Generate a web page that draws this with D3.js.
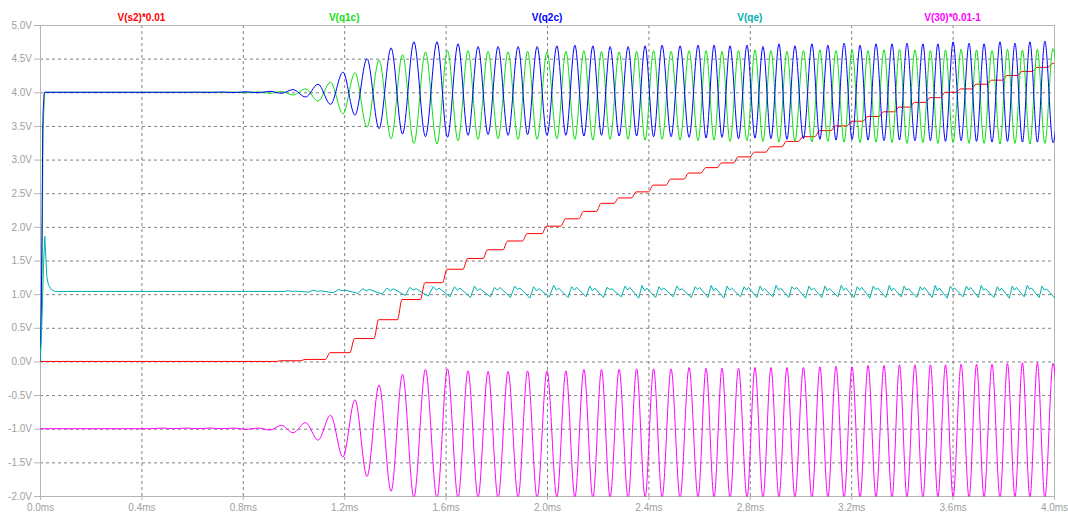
<!DOCTYPE html>
<html>
<head>
<meta charset="utf-8">
<script src="https://cdn.jsdelivr.net/npm/d3@7"></script>
<style>
  html, body { margin: 0; padding: 0; background: #ffffff; }
  svg { display: block; }
</style>
</head>
<body>
<svg id="chart" width="1068" height="512"></svg>
<script>
// ---- axis ticks ----
const xTicks = [0, 0.4, 0.8, 1.2, 1.6, 2.0, 2.4, 2.8, 3.2, 3.6, 4.0];
const xTickLabels = ["0.0ms", "0.4ms", "0.8ms", "1.2ms", "1.6ms", "2.0ms", "2.4ms", "2.8ms", "3.2ms", "3.6ms", "4.0ms"];
const yTicks = [5.0, 4.5, 4.0, 3.5, 3.0, 2.5, 2.0, 1.5, 1.0, 0.5, 0.0, -0.5, -1.0, -1.5, -2.0];
const yTickLabels = ["5.0V", "4.5V", "4.0V", "3.5V", "3.0V", "2.5V", "2.0V", "1.5V", "1.0V", "0.5V", "0.0V", "-0.5V", "-1.0V", "-1.5V", "-2.0V"];

// ---- trace names ----
const traceNames = ["V(s2)*0.01", "V(q1c)", "V(q2c)", "V(qe)", "V(30)*0.01-1"];

// ---- oscillation cycles: instants of the V(q2c) crests (ms) ----
const crestMs = [
  0.434, 0.529, 0.623, 0.718, 0.813, 0.907, 0.998, 1.097, 1.195, 1.290,
  1.385, 1.475, 1.566, 1.649, 1.728, 1.807, 1.886, 1.961, 2.039, 2.110,
  2.181, 2.249, 2.320, 2.387, 2.454, 2.525, 2.596, 2.659, 2.722, 2.789,
  2.852, 2.915, 2.978, 3.045, 3.108, 3.172, 3.235, 3.298, 3.361, 3.420,
  3.483, 3.542, 3.602, 3.665, 3.724, 3.787, 3.846, 3.905, 3.964, 4.028
];

// V(q2c): power-up edge, then crest (per crest) and trough (per half cycle) voltages
const q2cStartMs = [0, 0.004, 0.008, 0.011, 0.014, 0.018];
const q2cStartV  = [0, 0.6, 2.0, 3.5, 3.84, 4.0];
const q2cHigh = [
  4.000, 4.000, 4.003, 4.005, 4.008, 4.015, 4.04, 4.12, 4.30, 4.50,
  4.66, 4.75, 4.75, 4.72, 4.68, 4.68, 4.68, 4.68, 4.69, 4.70,
  4.69, 4.68, 4.68, 4.69, 4.70, 4.69, 4.70, 4.70, 4.69, 4.70,
  4.68, 4.72, 4.69, 4.72, 4.70, 4.73, 4.70, 4.72, 4.72, 4.73,
  4.72, 4.72, 4.75, 4.73, 4.72, 4.75, 4.73, 4.75, 4.76, 4.74
];
const q2cLow = [
  4.000, 4.000, 3.998, 3.996, 3.993, 3.985, 3.93, 3.82, 3.66, 3.46,
  3.38, 3.34, 3.33, 3.36, 3.37, 3.36, 3.37, 3.36, 3.36, 3.35,
  3.36, 3.35, 3.35, 3.34, 3.34, 3.33, 3.32, 3.33, 3.31, 3.32,
  3.31, 3.30, 3.31, 3.30, 3.29, 3.30, 3.29, 3.28, 3.29, 3.28,
  3.28, 3.27, 3.28, 3.27, 3.26, 3.27, 3.26, 3.26, 3.25
];

// V(q1c): antiphase collector — trough at each q2c crest, crest at each q2c trough
const q1cStartMs = [0, 0.005, 0.009, 0.012, 0.016, 0.019];
const q1cStartV  = [0, 0.5, 1.8, 3.3, 3.8, 4.0];
const q1cLow = [
  4.000, 4.000, 3.997, 3.995, 3.992, 3.985, 3.96, 3.87, 3.68, 3.48,
  3.31, 3.24, 3.23, 3.28, 3.30, 3.31, 3.30, 3.30, 3.31, 3.30,
  3.29, 3.30, 3.30, 3.29, 3.30, 3.29, 3.28, 3.29, 3.27, 3.28,
  3.27, 3.26, 3.27, 3.26, 3.27, 3.26, 3.25, 3.26, 3.25, 3.24,
  3.25, 3.24, 3.25, 3.24, 3.24, 3.23, 3.24, 3.23, 3.24, 3.23
];
const q1cHigh = [
  4.000, 4.000, 4.002, 4.004, 4.007, 4.012, 4.05, 4.15, 4.29, 4.48,
  4.56, 4.60, 4.62, 4.62, 4.61, 4.60, 4.61, 4.60, 4.61, 4.62,
  4.61, 4.60, 4.61, 4.62, 4.61, 4.62, 4.62, 4.61, 4.62, 4.63,
  4.62, 4.61, 4.62, 4.63, 4.62, 4.63, 4.62, 4.63, 4.64, 4.63,
  4.62, 4.63, 4.64, 4.63, 4.62, 4.64, 4.63, 4.64, 4.65
];

// V(30)*0.01-1: tank voltage — trough at each q2c crest, crest at each q2c trough
const v30Low = [
  -1.00, -1.00, -1.00, -1.00, -1.01, -1.02, -1.06, -1.17, -1.42, -1.71,
  -1.93, -2.02, -2.03, -2.03, -2.02, -2.03, -2.02, -2.03, -2.02, -2.02,
  -2.03, -2.02, -2.03, -2.02, -2.02, -2.03, -2.02, -2.02, -2.03, -2.02,
  -2.03, -2.02, -2.02, -2.03, -2.02, -2.03, -2.02, -2.02, -2.03, -2.02,
  -2.03, -2.02, -2.02, -2.03, -2.02, -2.03, -2.02, -2.02, -2.03, -2.02
];
const v30High = [
  -0.99, -0.99, -0.99, -0.99, -0.99, -0.95, -0.91, -0.80, -0.57, -0.35,
  -0.19, -0.12, -0.11, -0.14, -0.15, -0.15, -0.14, -0.14, -0.14, -0.12,
  -0.12, -0.12, -0.11, -0.11, -0.11, -0.09, -0.10, -0.10, -0.10, -0.09,
  -0.09, -0.09, -0.09, -0.08, -0.07, -0.08, -0.06, -0.06, -0.05, -0.05,
  -0.05, -0.05, -0.04, -0.04, -0.04, -0.03, -0.02, -0.02, -0.03
];

// V(s2)*0.01: level reached after the charge step of each half cycle
const s2Level = [
  0, 0, 0, 0, 0, 0.01, 0.03, 0.13, 0.34, 0.62,
  0.92, 1.17, 1.37, 1.53, 1.66, 1.79, 1.90, 2.01, 2.12, 2.23,
  2.35, 2.43, 2.52, 2.62, 2.71, 2.80, 2.88, 2.95, 3.04, 3.11,
  3.19, 3.27, 3.34, 3.43, 3.50, 3.57, 3.64, 3.71, 3.78, 3.85,
  3.92, 4.00, 4.05, 4.12, 4.18, 4.25, 4.31, 4.37, 4.43
];

// V(qe): start-up spike, then per-cycle ripple (spike, notch, bump, dip)
const qeStartMs = [0, 0.005, 0.009, 0.014, 0.019, 0.023, 0.027, 0.034, 0.045, 0.058];
const qeStartV  = [0, 0.35, 0.76, 1.45, 1.86, 1.55, 1.25, 1.13, 1.07, 1.04];
const qeSpike = [
  1.04, 1.04, 1.04, 1.04, 1.04, 1.04, 1.05, 1.06, 1.07, 1.08,
  1.09, 1.10, 1.11, 1.11, 1.12, 1.10, 1.12, 1.11, 1.13, 1.11,
  1.12, 1.10, 1.12, 1.13, 1.11, 1.12, 1.11, 1.13, 1.12, 1.11,
  1.12, 1.13, 1.11, 1.12, 1.12, 1.13, 1.11, 1.12, 1.13, 1.12,
  1.11, 1.13, 1.12, 1.12, 1.13, 1.11, 1.12, 1.13, 1.12, 1.13
];
const qeNotch = [
  1.04, 1.04, 1.04, 1.04, 1.04, 1.04, 1.04, 1.04, 1.05, 1.05,
  1.05, 1.06, 1.06, 1.06, 1.05, 1.06, 1.07, 1.05, 1.06, 1.06,
  1.05, 1.07, 1.06, 1.05, 1.06, 1.06, 1.07, 1.05, 1.06, 1.06,
  1.05, 1.06, 1.07, 1.06, 1.05, 1.06, 1.06, 1.07, 1.05, 1.06,
  1.06, 1.05, 1.07, 1.06, 1.06, 1.05, 1.06, 1.07, 1.06, 1.05
];
const qeBump = [
  1.04, 1.04, 1.04, 1.04, 1.04, 1.04, 1.045, 1.05, 1.06, 1.07,
  1.08, 1.08, 1.09, 1.09, 1.08, 1.10, 1.09, 1.08, 1.09, 1.10,
  1.09, 1.08, 1.10, 1.09, 1.09, 1.08, 1.10, 1.09, 1.09, 1.10,
  1.08, 1.09, 1.10, 1.09, 1.08, 1.09, 1.10, 1.09, 1.09, 1.08,
  1.10, 1.09, 1.09, 1.10, 1.08, 1.09, 1.10, 1.09, 1.08, 1.09
];
const qeDip = [
  1.04, 1.04, 1.04, 1.04, 1.04, 1.04, 1.03, 1.02, 1.01, 1.00,
  0.98, 0.97, 0.96, 0.95, 0.96, 0.95, 0.94, 0.96, 0.95, 0.96,
  0.95, 0.96, 0.94, 0.95, 0.96, 0.95, 0.95, 0.94, 0.96, 0.95,
  0.96, 0.95, 0.94, 0.95, 0.96, 0.95, 0.94, 0.95, 0.96, 0.95,
  0.95, 0.94, 0.96, 0.95, 0.95, 0.94, 0.96, 0.95, 0.94, 0.95
];

// ---- layout / style ----
const colors = {
  s2: "#ff0000", q1c: "#10e010", q2c: "#0000ff", qe: "#00b0b0", v30: "#ff00ff"
};
const legendColors = [colors.s2, colors.q1c, colors.q2c, colors.qe, colors.v30];
const margin = { left: 40, top: 25, right: 14, bottom: 16 };
const width = 1068, height = 512;
const plotW = width - margin.left - margin.right;
const plotH = height - margin.top - margin.bottom;
const FONT = "'Liberation Sans', Arial, Helvetica, sans-serif";

const x = d3.scaleLinear().domain([0, 4]).range([margin.left, margin.left + plotW]);
const y = d3.scaleLinear().domain([-2, 5]).range([margin.top + plotH, margin.top]);

const svg = d3.select("#chart");

// ---- grid (dashed) ----
const hGrid = svg.append("g")
  .attr("transform", `translate(${margin.left},0)`)
  .call(d3.axisLeft(y).tickValues(yTicks.filter(v => v > -2 && v < 5)).tickSize(-plotW).tickFormat(""));
hGrid.select(".domain").remove();
hGrid.selectAll("line").attr("stroke", "#808080").attr("stroke-dasharray", "3,3");

const vGrid = svg.append("g")
  .attr("transform", `translate(0,${margin.top + plotH})`)
  .call(d3.axisBottom(x).tickValues(xTicks.filter(v => v > 0 && v < 4)).tickSize(-plotH).tickFormat(""));
vGrid.select(".domain").remove();
vGrid.selectAll("line").attr("stroke", "#808080").attr("stroke-dasharray", "3,3");

// ---- frame ----
svg.append("rect")
  .attr("x", margin.left + 0.5).attr("y", margin.top + 0.5)
  .attr("width", plotW).attr("height", plotH)
  .attr("fill", "none").attr("stroke", "#b4b4b4");

// ---- axes with labels ----
const yAxis = svg.append("g")
  .attr("transform", `translate(${margin.left},0)`)
  .call(d3.axisLeft(y).tickValues(yTicks).tickFormat((d, i) => yTickLabels[i]).tickSize(6).tickPadding(2));
yAxis.select(".domain").remove();
yAxis.attr("font-family", FONT).attr("font-size", 10);
yAxis.selectAll("line").attr("stroke", "#b4b4b4");
yAxis.selectAll("text").attr("fill", "#a0a0a0");

const xAxis = svg.append("g")
  .attr("transform", `translate(0,${margin.top + plotH})`)
  .call(d3.axisBottom(x).tickValues(xTicks).tickFormat((d, i) => xTickLabels[i]).tickSize(4).tickPadding(4));
xAxis.select(".domain").remove();
xAxis.attr("font-family", FONT).attr("font-size", 10);
xAxis.selectAll("line").attr("stroke", "#b4b4b4");
xAxis.selectAll("text").attr("fill", "#a0a0a0");

// ---- build trace point lists ----
const nCycles = crestMs.length;
const troughMs = crestMs.slice(0, -1).map((t, i) => (t + crestMs[i + 1]) / 2);

const q2cPts = q2cStartMs.map((t, i) => [t, q2cStartV[i]]);
const q1cPts = q1cStartMs.map((t, i) => [t, q1cStartV[i]]);
const v30Pts = [[0, -1.0]];
for (let i = 0; i < nCycles; i++) {
  q2cPts.push([crestMs[i], q2cHigh[i]]);
  q1cPts.push([crestMs[i], q1cLow[i]]);
  v30Pts.push([crestMs[i], v30Low[i]]);
  if (i < troughMs.length) {
    q2cPts.push([troughMs[i], q2cLow[i]]);
    q1cPts.push([troughMs[i], q1cHigh[i]]);
    v30Pts.push([troughMs[i], v30High[i]]);
  }
}

// staircase: each charge step ends at the q2c trough
const s2Pts = [[0, 0]];
troughMs.forEach((t, i) => {
  const prev = i > 0 ? s2Level[i - 1] : 0;
  s2Pts.push([t - 0.020, prev]);
  s2Pts.push([t - 0.002, s2Level[i]]);
});
s2Pts.push([4.0, s2Level[s2Level.length - 1]]);

// emitter ripple, one pattern per cycle
const qePts = qeStartMs.map((t, i) => [t, qeStartV[i]]);
for (let i = 0; i < nCycles; i++) {
  const P = i < nCycles - 1 ? crestMs[i + 1] - crestMs[i] : crestMs[i] - crestMs[i - 1];
  const c = crestMs[i];
  qePts.push([c - 0.18 * P, qeSpike[i]]);
  qePts.push([c - 0.03 * P, qeNotch[i]]);
  qePts.push([c + 0.10 * P, qeBump[i]]);
  qePts.push([c + 0.62 * P, qeDip[i]]);
}

// ---- traces ----
svg.append("clipPath").attr("id", "plotClip")
  .append("rect")
  .attr("x", margin.left).attr("y", margin.top)
  .attr("width", plotW + 1).attr("height", plotH + 0.5);

const traces = svg.append("g").attr("clip-path", "url(#plotClip)");
const smooth = d3.line().x(d => x(d[0])).y(d => y(d[1])).curve(d3.curveMonotoneX);
const straight = d3.line().x(d => x(d[0])).y(d => y(d[1]));

const drawn = [
  { pts: s2Pts, gen: smooth, color: colors.s2 },
  { pts: q1cPts, gen: smooth, color: colors.q1c },
  { pts: q2cPts, gen: smooth, color: colors.q2c },
  { pts: qePts, gen: straight, color: colors.qe },
  { pts: v30Pts, gen: smooth, color: colors.v30 }
];
drawn.forEach(s => {
  traces.append("path")
    .datum(s.pts)
    .attr("d", s.gen)
    .attr("fill", "none")
    .attr("stroke", s.color)
    .attr("stroke-width", 1)
    .attr("stroke-linejoin", "round");
});

// ---- trace titles ----
svg.append("g")
  .selectAll("text")
  .data(traceNames)
  .join("text")
  .attr("x", (d, i) => margin.left + (i + 0.5) * plotW / traceNames.length)
  .attr("y", 21)
  .attr("text-anchor", "middle")
  .attr("font-family", FONT)
  .attr("font-size", 10)
  .attr("font-weight", "bold")
  .attr("fill", (d, i) => legendColors[i])
  .text(d => d);
</script>
</body>
</html>
